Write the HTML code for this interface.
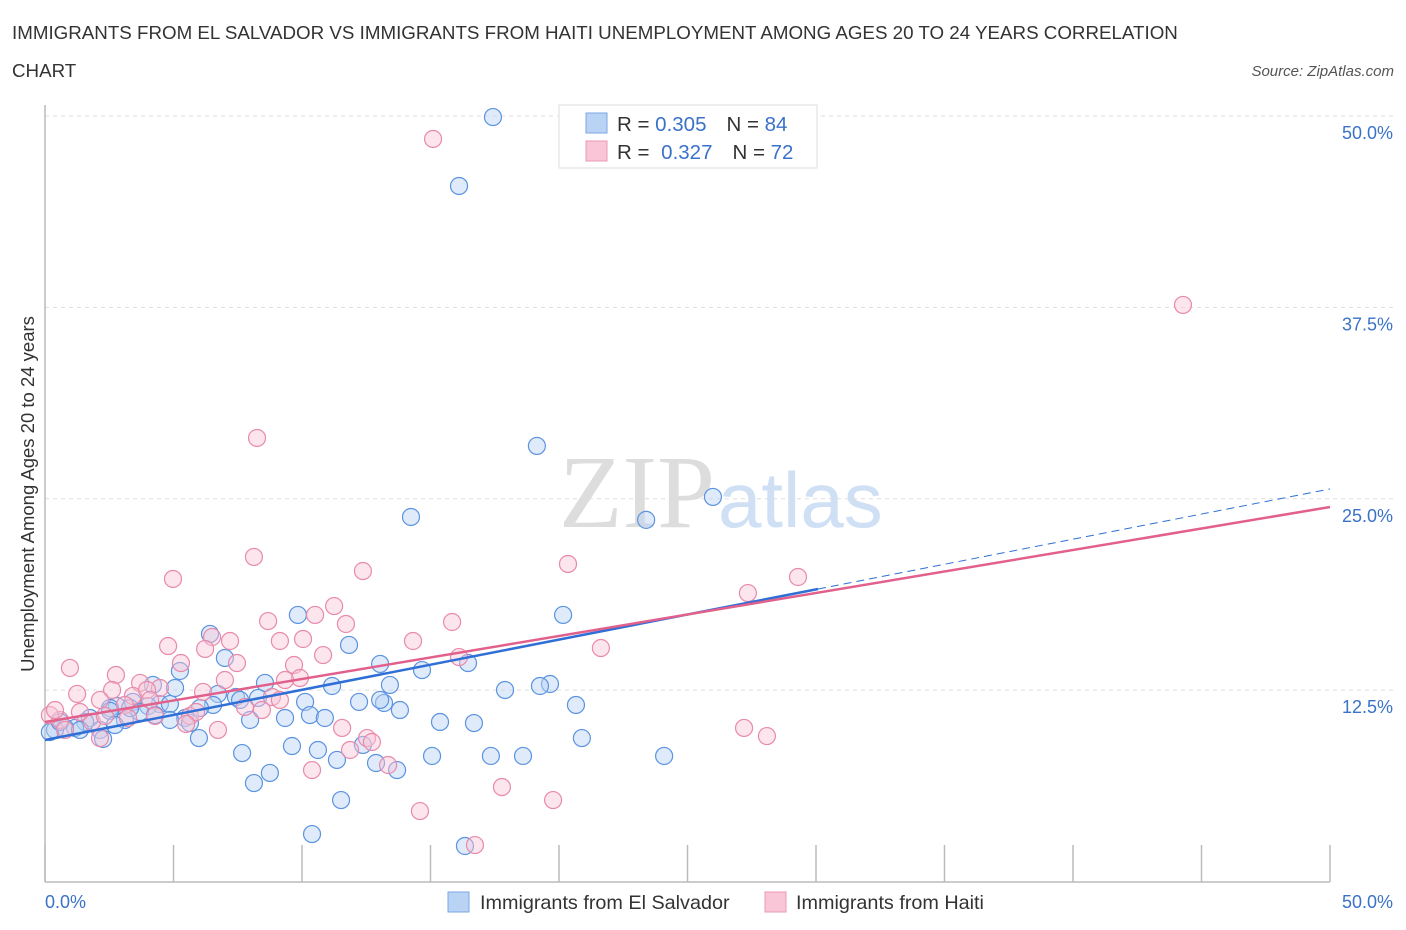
<!DOCTYPE html>
<html><head><meta charset="utf-8"><style>
body{margin:0;background:#fff;font-family:"Liberation Sans",sans-serif}
svg{display:block}
</style></head><body>
<svg id="chart" width="1406" height="930" xmlns="http://www.w3.org/2000/svg">
<text x="12" y="39" font-size="18.75" fill="#333">IMMIGRANTS FROM EL SALVADOR VS IMMIGRANTS FROM HAITI UNEMPLOYMENT AMONG AGES 20 TO 24 YEARS CORRELATION</text>
<text x="12" y="77" font-size="18.75" fill="#333">CHART</text>
<text x="1394" y="76" font-size="15" fill="#555" font-style="italic" text-anchor="end">Source: ZipAtlas.com</text>
<text x="715" y="527" text-anchor="end" font-family="Liberation Serif" font-size="104" fill="#ddd">ZIP</text>
<text x="718" y="527" font-size="78" fill="#cfe0f5">atlas</text>
<g id="grid"></g>
<line x1="45" y1="105" x2="45" y2="882" stroke="#bbb" stroke-width="1.5"/>
<line x1="45" y1="882" x2="1330" y2="882" stroke="#bbb" stroke-width="1.5"/>
<g id="xticks"></g>
<g id="pts"></g>
<g id="lines"></g>
<text transform="translate(34,494) rotate(-90)" text-anchor="middle" font-size="18.5" fill="#333">Unemployment Among Ages 20 to 24 years</text>
<text x="45" y="908" font-size="18" fill="#3a72c8">0.0%</text>
<text x="1393" y="908" font-size="18" fill="#3a72c8" text-anchor="end">50.0%</text>
<g>
<rect x="559" y="105" width="258" height="63" fill="#fff" stroke="#ddd"/>
<rect x="586" y="113" width="21" height="20" fill="#b9d3f5" stroke="#7aa7e6"/>
<rect x="586" y="141" width="21" height="20" fill="#f8c6d6" stroke="#eb98b4"/>
<text x="617" y="131" font-size="20.5" fill="#333">R = <tspan fill="#3a72c8">0.305</tspan><tspan dx="20">N = </tspan><tspan fill="#3a72c8">84</tspan></text>
<text x="617" y="159" font-size="20.5" fill="#333">R = <tspan fill="#3a72c8" dx="6">0.327</tspan><tspan dx="20">N = </tspan><tspan fill="#3a72c8">72</tspan></text>
</g>
<g>
<rect x="448" y="892" width="21" height="20" fill="#b9d3f5" stroke="#7aa7e6"/>
<text x="480" y="909" font-size="19.8" fill="#333">Immigrants from El Salvador</text>
<rect x="765" y="892" width="21" height="20" fill="#f8c6d6" stroke="#eb98b4"/>
<text x="796" y="909" font-size="19.8" fill="#333">Immigrants from Haiti</text>
</g>
</svg>
<script>
const yTicks=[12.5,25,37.5,50];
const yTickLabels=["12.5%","25.0%","37.5%","50.0%"];
const xTicks=[0,5,10,15,20,25,30,35,40,45,50];
const blueX=[17.43,16.11,19.14,25.99,14.24,23.39,20.16,9.84,6.42,11.83,7.00,13.04,16.46,14.67,5.25,4.20,8.56,11.17,19.65,19.26,17.90,13.42,5.06,7.43,6.73,8.29,10.12,12.22,13.19,13.81,20.66,4.47,4.86,4.01,3.42,2.80,3.70,2.53,3.11,1.75,1.56,1.17,0.78,0.39,0.19,0.58,2.14,6.54,5.45,5.64,7.98,9.34,10.31,10.89,15.37,16.69,5.99,2.26,7.67,9.61,10.62,12.37,11.36,12.88,13.70,15.06,17.35,18.60,20.89,24.09,8.75,8.13,11.52,10.39,16.34,2.53,4.28,6.03,7.59,13.04,4.86,3.31,2.72,1.36];
const blueY=[49.93,45.43,28.45,25.12,23.81,23.62,17.41,17.41,16.17,15.45,14.60,14.21,14.27,13.81,13.75,12.84,12.97,12.77,12.90,12.77,12.51,12.84,12.64,12.05,12.25,11.99,11.73,11.73,11.66,11.20,11.53,11.59,11.59,11.46,11.73,11.46,11.07,11.33,10.55,10.68,10.42,10.03,10.03,9.90,9.76,10.42,9.90,11.53,10.68,10.35,10.55,10.68,10.87,10.68,10.42,10.35,9.37,9.31,8.39,8.85,8.59,8.92,7.94,7.74,7.28,8.20,8.20,8.20,9.37,8.20,7.09,6.43,5.32,3.10,2.32,11.14,10.87,11.33,11.86,11.86,10.55,11.33,10.22,9.90];
const pinkX=[15.10,44.28,8.25,8.13,20.35,12.37,4.98,29.30,27.35,11.25,8.68,10.51,11.71,15.84,6.50,7.20,9.14,10.04,14.32,21.63,4.79,6.23,5.29,10.82,16.11,7.47,0.97,2.76,9.69,3.70,4.47,7.00,1.25,2.61,3.42,3.97,6.15,8.83,9.92,8.44,5.64,7.78,5.88,4.28,0.58,1.83,0.19,2.14,5.49,6.73,11.56,12.53,12.72,11.87,13.35,10.39,17.78,19.77,14.59,16.73,27.20,28.09,1.36,3.11,0.78,4.09,9.14,3.23,2.33,9.34,2.14,0.39];
const pinkY=[48.50,37.66,28.97,21.20,20.74,20.28,19.76,19.89,18.84,17.99,17.01,17.41,16.82,16.95,15.97,15.71,15.71,15.84,15.71,15.25,15.38,15.19,14.27,14.79,14.66,14.27,13.95,13.49,14.14,12.97,12.64,13.16,12.25,12.51,12.12,12.51,12.38,12.05,13.29,11.20,10.81,11.40,11.07,10.81,10.55,10.42,10.87,9.37,10.29,9.90,10.03,9.37,9.11,8.59,7.61,7.28,6.17,5.32,4.60,2.38,10.03,9.50,11.07,11.53,9.90,11.86,11.86,10.68,10.81,13.16,11.86,11.20];
const blueTrend=[9.24,25.64];
const blueSolidEnd=30.08;
const pinkTrend=[10.42,24.46];

const NS="http://www.w3.org/2000/svg";
const sx=v=>45+v*(1285/50);
const sy=v=>881.5-v*(765.5/50);
function mk(tag,attrs,parent){const e=document.createElementNS(NS,tag);for(const k in attrs)e.setAttribute(k,attrs[k]);parent.appendChild(e);return e;}
const grid=document.getElementById('grid');
yTicks.forEach((t,i)=>{
  const l=mk('line',{x1:45,x2:1395,y1:sy(t),y2:sy(t),stroke:'#ddd','stroke-dasharray':'4,4'},grid);
  
  
  const tx=mk('text',{x:1393,y:sy(t)+23,'font-size':18,fill:'#3a72c8','text-anchor':'end'},grid);
  tx.textContent=yTickLabels[i];
  
  
});
const xt=document.getElementById('xticks');
xTicks.forEach(t=>{
  const l=mk('line',{x1:sx(t),x2:sx(t),y1:845,y2:882,stroke:'#bbb','stroke-width':1.5},xt);
  
  
});
const pts=document.getElementById('pts');
function series(X,Y,fill,stroke,name){
  X.forEach((x,i)=>{
    const c=mk('circle',{cx:sx(x),cy:sy(Y[i]),r:8.5,fill:fill,'fill-opacity':0.45,stroke:stroke,'stroke-width':1.2},pts);
    
    
  });
}
series(blueX,blueY,'#b9d3f5','#5b93e0','el-salvador-point');
series(pinkX,pinkY,'#f8c6d6','#e88aab','haiti-point');
const ln=document.getElementById('lines');
const bAt=x=>blueTrend[0]+(blueTrend[1]-blueTrend[0])*x/50;
let b1=mk('line',{x1:sx(0),y1:sy(bAt(0)),x2:sx(blueSolidEnd),y2:sy(bAt(blueSolidEnd)),stroke:'#2f6fd6','stroke-width':2.5},ln);


let b2=mk('line',{x1:sx(blueSolidEnd),y1:sy(bAt(blueSolidEnd)),x2:sx(50),y2:sy(bAt(50)),stroke:'#2f6fd6','stroke-width':1,'stroke-dasharray':'8,5'},ln);


let p1=mk('line',{x1:sx(0),y1:sy(pinkTrend[0]),x2:sx(50),y2:sy(pinkTrend[1]),stroke:'#e2608c','stroke-width':2.5},ln);


</script>
</body></html>
